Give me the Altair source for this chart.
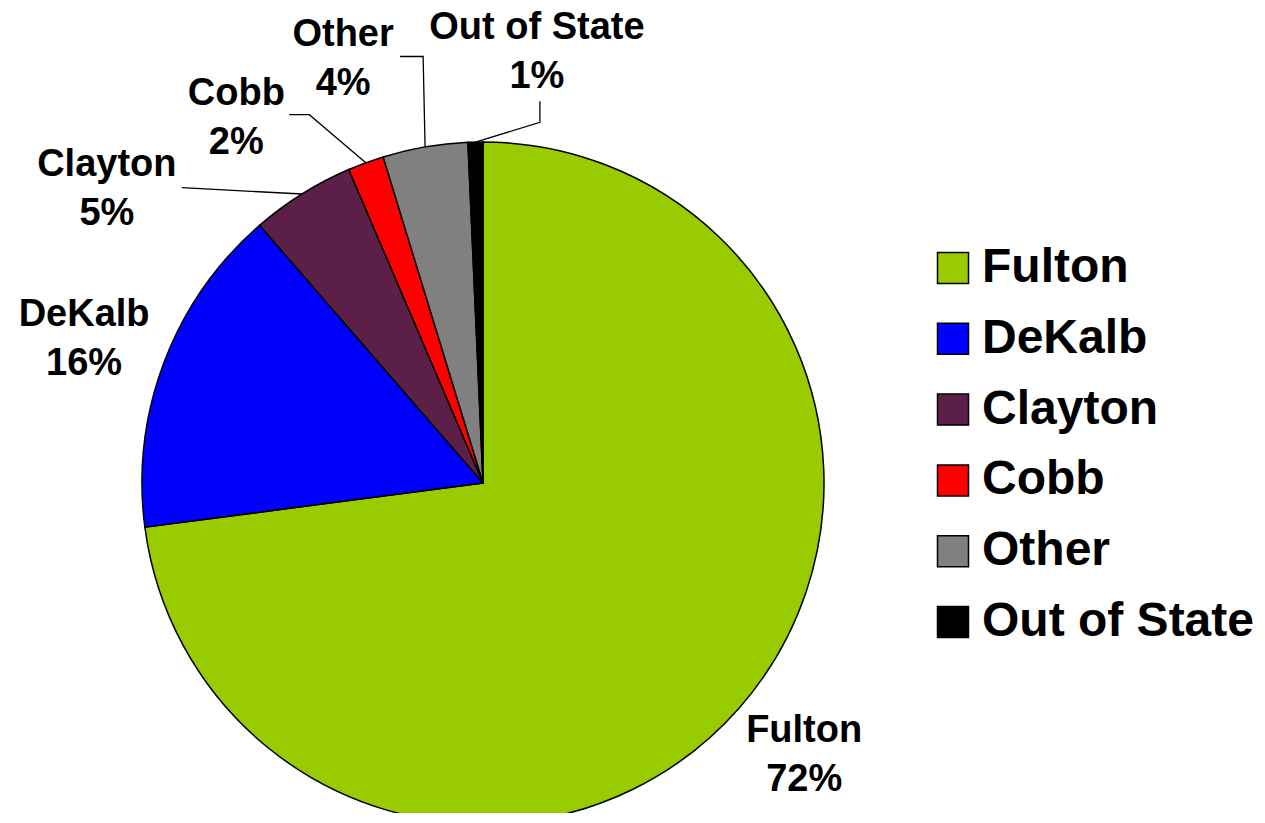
import altair as alt
import numpy as np
import pandas as pd

# ---- data (shares in %, as reported) ----
counties = ["Fulton", "DeKalb", "Clayton", "Cobb", "Other", "Out of State"]
shares = [72.49, 15.6, 4.9, 1.7, 4.0, 0.7]
colors = ["#99CC00", "#0000FF", "#5C1F48", "#FF0000", "#808080", "#000000"]

# ---- layout (styling, not data) ----
CX, CY, R = 475, 475, 341
label_shift = [-1.0, -1.0, -20.0, -14.0, -8.5, 8.4]     # degrees from slice mid-angle
label_radius = [421, 424, 477, 440, 446, 434]
line_gap = 24.5
# leader polylines: points relative to label centre (after the start point on the rim)
leader_offsets = {
    "Clayton": [(75, -2)],
    "Cobb": [(73, -4), (53, -4)],
    "Other": [(80, -3), (57, -3)],
    "Out of State": [(3, 70), (3, 49)],
}

df = pd.DataFrame({"county": counties, "share": shares, "idx": range(len(counties))})
total = df["share"].sum()
cum = df["share"].cumsum() - df["share"] / 2
df["mid"] = cum / total * 360.0
df["pct"] = df["share"].round().astype(int).astype(str) + "%"
ang = np.radians(df["mid"] + np.array(label_shift))
df["lx"] = CX + np.array(label_radius) * np.sin(ang)
df["ly"] = CY - np.array(label_radius) * np.cos(ang)
df["name_y"] = df["ly"] - line_gap
df["pct_y"] = df["ly"] + line_gap

rows = []
for _, r in df.iterrows():
    if r["county"] not in leader_offsets:
        continue
    a = np.radians(r["mid"])
    rows.append({"county": r["county"], "seq": 0, "x": CX + R * np.sin(a), "y": CY - R * np.cos(a)})
    for k, (ox, oy) in enumerate(leader_offsets[r["county"]]):
        rows.append({"county": r["county"], "seq": k + 1, "x": r["lx"] + ox, "y": r["ly"] + oy})
leaders = pd.DataFrame(rows)

FONT = "Liberation Sans"

pie = alt.Chart(df).mark_arc(stroke="black", strokeWidth=1.5, radius=R).encode(
    theta=alt.Theta("share:Q", stack=True),
    color=alt.Color(
        "county:N",
        scale=alt.Scale(domain=counties, range=colors),
        sort=counties,
        legend=alt.Legend(
            title=None,
            orient="none",
            legendX=921,
            legendY=236,
            padding=0,
            symbolType="square",
            symbolSize=961,
            symbolStrokeColor="black",
            symbolStrokeWidth=1.5,
            symbolOpacity=1,
            labelFont=FONT,
            labelFontSize=48,
            labelFontWeight="bold",
            labelColor="black",
            labelOffset=5,
            rowPadding=22.8,
            labelLimit=400,
        ),
    ),
    order=alt.Order("idx:Q"),
    x=alt.value(CX),
    y=alt.value(CY),
)

lines = alt.Chart(leaders).mark_line(color="black", strokeWidth=1.3).encode(
    x=alt.X("x:Q", scale=None, axis=None),
    y=alt.Y("y:Q", scale=None, axis=None),
    detail="county:N",
    order="seq:Q",
)

text_style = dict(font=FONT, fontSize=38, fontWeight="bold", color="black", align="center", baseline="middle")

names = alt.Chart(df).mark_text(**text_style).encode(
    x=alt.X("lx:Q", scale=None, axis=None),
    y=alt.Y("name_y:Q", scale=None, axis=None),
    text="county:N",
)

pcts = alt.Chart(df).mark_text(**text_style).encode(
    x=alt.X("lx:Q", scale=None, axis=None),
    y=alt.Y("pct_y:Q", scale=None, axis=None),
    text="pct:N",
)

chart = alt.layer(pie, lines, names, pcts).properties(
    width=1249, height=805, padding=0, autosize=alt.AutoSizeParams(type="none"),
    background="white",
).configure_view(stroke=None)

chart.save("out.html", embed_options={"renderer": "svg", "actions": False})
